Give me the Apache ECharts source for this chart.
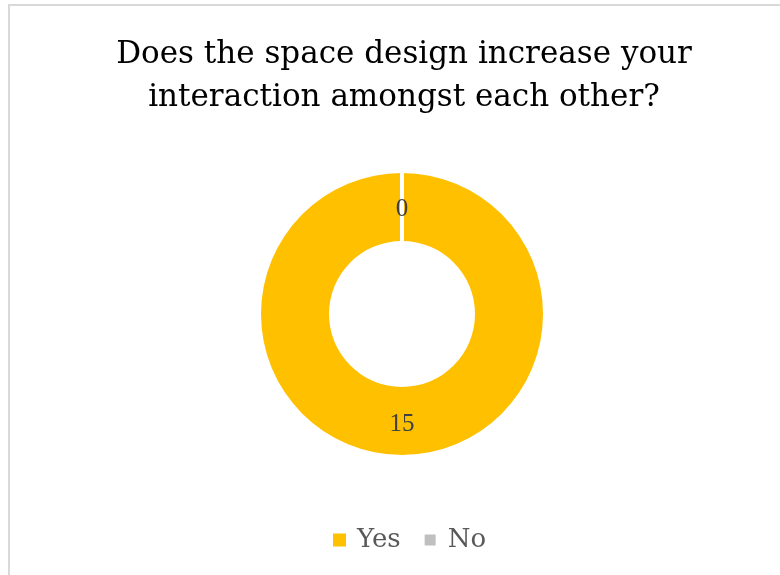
<!DOCTYPE html>
<html><head><meta charset="utf-8">
<script src="https://cdn.jsdelivr.net/npm/echarts@6/dist/echarts.min.js"></script>
<style>html,body{margin:0;padding:0;background:#fff}#c{width:780px;height:575px}</style>
</head><body><div id="c"></div>
<script>
const titleLines = ['Does the space design increase your', 'interaction amongst each other?'];
const categories = ['Yes', 'No'];
const values = [15, 0];
const colors = ['#FFC000', '#BFBFBF'];

const chart = echarts.init(document.getElementById('c'), null, {renderer: 'canvas'});
const serif = 'DejaVu Serif';
chart.setOption({
  animation: false,
  backgroundColor: '#fff',
  graphic: [{
    type: 'rect', silent: true, z: -1,
    shape: {x: 9, y: 5, width: 800, height: 600},
    style: {fill: '#fff', stroke: '#D9D9D9', lineWidth: 2}
  }],
  title: {
    text: titleLines.join('\n'),
    left: 399, top: 28,
    textAlign: 'center',
    textStyle: {fontFamily: serif, fontSize: 31, fontWeight: 'normal', color: '#000', lineHeight: 43}
  },
  legend: {
    bottom: 17, left: 328,
    icon: 'rect', itemWidth: 13, itemHeight: 13, itemGap: 22,
    textStyle: {fontFamily: serif, fontSize: 26, color: '#595959', padding: [0, 0, 0, 6]},
    data: categories
  },
  series: [{
    type: 'pie',
    center: [402, 314],
    radius: [73, 141],
    startAngle: 90,
    clockwise: true,
    avoidLabelOverlap: false,
    label: {show: true, position: 'inside', formatter: '{c}', fontFamily: 'Liberation Serif', fontSize: 25, color: '#404040'},
    labelLine: {show: false},
    emphasis: {disabled: true},
    data: categories.map((n, i) => ({
      name: n, value: values[i],
      label: i === 1 ? {offset: [0, 5]} : {},
      itemStyle: {color: colors[i], borderColor: '#fff', borderWidth: i === 1 ? 4 : 0}
    }))
  }]
});
</script></body></html>
